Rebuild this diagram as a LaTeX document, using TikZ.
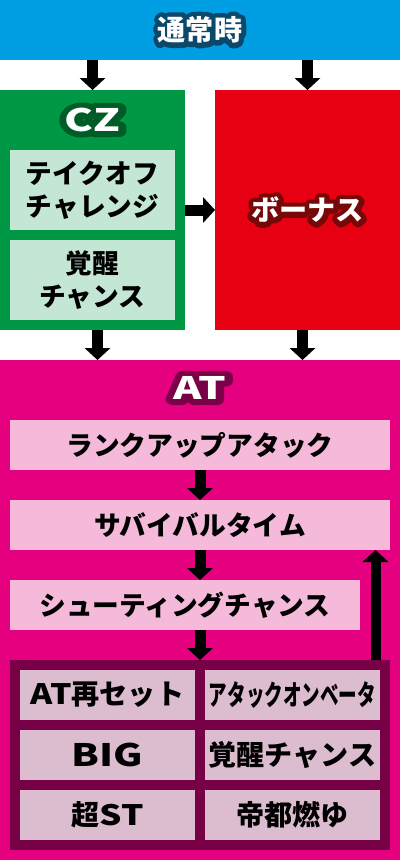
\documentclass[tikz,border=0pt]{standalone}
\usepackage{fontspec}
\setmainfont{Noto Sans CJK JP}[BoldFont={Noto Sans CJK JP Black}]
\newfontfamily\ringfont{Noto Sans CJK JP Black}[FakeBold=36]
\usetikzlibrary{arrows.meta}
\definecolor{normalblue}{RGB}{0,158,226}
\definecolor{normalring}{RGB}{10,72,108}
\definecolor{czgreen}{RGB}{0,152,68}
\definecolor{czring}{RGB}{0,92,38}
\definecolor{czlight}{RGB}{196,230,212}
\definecolor{bonusred}{RGB}{230,0,18}
\definecolor{bonusring}{RGB}{118,8,8}
\definecolor{atpink}{RGB}{228,0,127}
\definecolor{atring}{RGB}{122,0,72}
\definecolor{atlight}{RGB}{245,186,218}
\definecolor{atdark}{RGB}{120,0,70}
\definecolor{atcell}{RGB}{220,189,208}
\newcommand{\px}{0.25mm}
% wide latin letters
\newcommand{\wide}[2]{\scalebox{#1}[1]{#2}}

% white title with a dark ring round it (round joins for the stroked copy)
\newcommand{\ringtext}[4]{%
    \node[titletext, text=#3, font=\ringfont\fontsize{20}{20}\selectfont] at (#2) {\special{pdf:code 1 j 1 J}#4};
    \node[titletext, text=white] (#1) at (#2) {#4};
}

\begin{document}
\begin{tikzpicture}[x=0.25mm, y=-0.25mm,
    panel/.style={rectangle, inner sep=0, outer sep=0},
    titletext/.style={font=\bfseries\fontsize{20}{20}\selectfont, inner sep=0},
    boxtext/.style={panel, font=\bfseries\fontsize{19}{23.4}\selectfont, align=center},
    cell/.style={boxtext, fill=atcell, minimum width=175*\px, minimum height=50*\px, font=\bfseries\fontsize{20}{20}\selectfont},
    flow/.style={line width=2.75mm, -{Triangle[width=6.5mm, length=3mm, line width=0pt]}}]

    \useasboundingbox (0,0) rectangle (400,860);

    % top band
    \node[panel, fill=normalblue, minimum width=400*\px, minimum height=60*\px] (normal) at (200,30) {};
    \ringtext{normaltitle}{200,30}{normalring}{通常時}

    % CZ column and bonus column
    \node[panel, fill=czgreen, minimum width=185*\px, minimum height=240*\px] (cz) at (92.5,210) {};
    \node[panel, fill=bonusred, minimum width=185*\px, minimum height=240*\px] (bonus) at (307.5,210) {};
    \ringtext{cztitle}{92.5,120}{czring}{\fontsize{22}{22}\selectfont\wide{1.4}{CZ}}
    \ringtext{bonustitle}{307.5,210}{bonusring}{ボーナス}
    \node[boxtext, fill=czlight, minimum width=165*\px, minimum height=80*\px] (takeoff) at (92.5,190) {テイクオフ\\チャレンジ};
    \node[boxtext, fill=czlight, minimum width=165*\px, minimum height=80*\px] (kakusei) at (92.5,280) {覚醒\\チャンス};

    % AT part
    \node[panel, fill=atpink, minimum width=400*\px, minimum height=500*\px] (at) at (200,610) {};
    \ringtext{attitle}{200,388}{atring}{\fontsize{22}{22}\selectfont\wide{1.4}{AT}}
    \node[boxtext, fill=atlight, minimum width=380*\px, minimum height=50*\px] (rankup) at (200,445) {ランクアップアタック};
    \node[boxtext, fill=atlight, minimum width=380*\px, minimum height=50*\px] (survival) at (200,525) {サバイバルタイム};
    \node[boxtext, fill=atlight, minimum width=350*\px, minimum height=50*\px] (shooting) at (185,605) {シューティングチャンス};

    % stock of AT items
    \node[panel, fill=atdark, minimum width=380*\px, minimum height=190*\px] (stock) at (200,755) {};
    \node[cell] (reset) at (107.5,695) {\wide{1.2}{AT}再セット};
    \node[cell] (onbeta) at (292.5,695) {\wide{0.66}{アタックオンベータ}};
    \node[cell] (big) at (107.5,755) {\fontsize{22}{22}\selectfont\wide{1.3}{BIG}};
    \node[cell] (awake) at (292.5,755) {覚醒チャンス};
    \node[cell] (superst) at (107.5,815) {超\wide{1.25}{ST}};
    \node[cell] (teito) at (292.5,815) {帝都燃ゆ};

    % arrows
    \draw[flow] (normal.south -| cz) -- (cz.north);
    \draw[flow] (normal.south -| bonus) -- (bonus.north);
    \draw[flow] (cz.east) -- (bonus.west);
    \draw[flow] ([xshift=1.25mm]cz.south) -- ([xshift=1.25mm]cz.south |- at.north);
    \draw[flow] ([xshift=-1.25mm]bonus.south) -- ([xshift=-1.25mm]bonus.south |- at.north);
    \draw[flow] (rankup) -- (survival);
    \draw[flow] (survival.south) -- (survival.south |- shooting.north);
    \draw[flow] (stock.north |- shooting.south) -- (stock.north);
    \coordinate (loopfoot) at (375.5,660);
    \draw[flow, line width=2.5mm] (loopfoot) -- (loopfoot |- survival.south);
\end{tikzpicture}
\end{document}
